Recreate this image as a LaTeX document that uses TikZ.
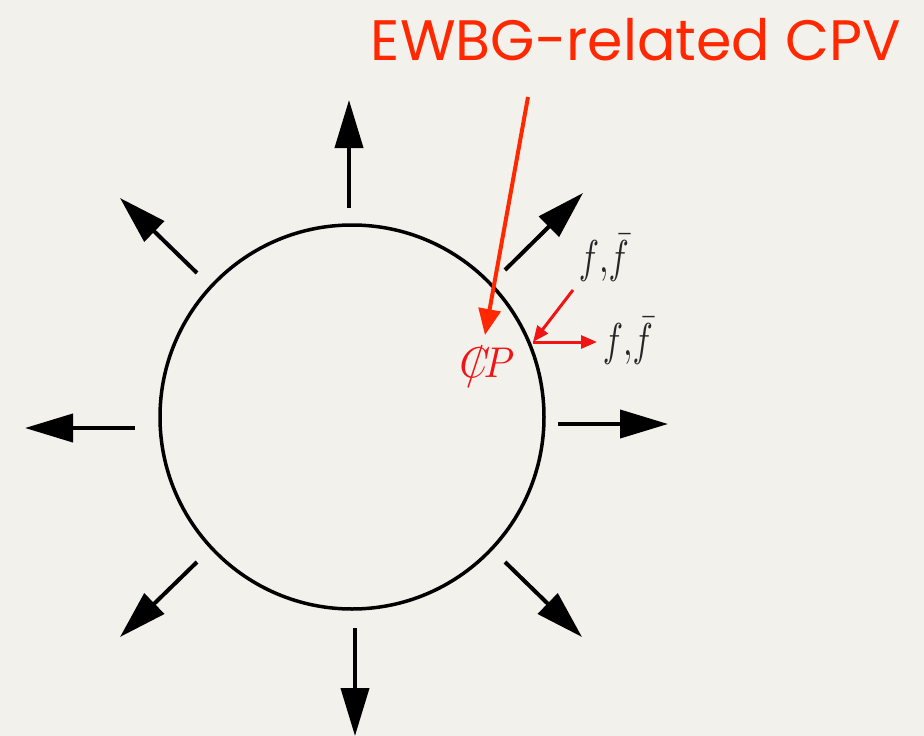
\documentclass[tikz,border=0pt]{standalone}
\usepackage{fontspec}
\usepackage{amsmath}
\usepackage{graphicx}
\usetikzlibrary{arrows.meta,positioning}
\newfontfamily\titlefont{Poppins}
\definecolor{paper}{RGB}{242,241,236}
\definecolor{cpvred}{RGB}{255,40,0}
\definecolor{labred}{RGB}{240,20,20}

\begin{document}
\begin{tikzpicture}[
  x=1pt, y=-1pt,
  bubble/.style={circle, draw, line width=3.5pt, minimum size=384pt, inner sep=0pt},
  radial/.style={-{Triangle[length=48pt,width=28pt]}, line width=4pt},
  pointer/.style={-{Triangle[length=26pt,width=22pt]}, line width=4pt, draw=cpvred, color=cpvred},
  flow/.style={-{Triangle[length=16pt,width=13pt]}, line width=3pt, draw=labred, color=labred},
  ffbar/.style={text=black!85, inner sep=1pt}
]
\useasboundingbox[fill=paper] (0,0) rectangle (924,736);

% Wall
\node[bubble] (wall) at (352,417) {};

% Radial arrows
\coordinate (n0) at (349,208);  \coordinate (n1) at (349,100);
\coordinate (s0) at (355,628);  \coordinate (s1) at (355,736);
\coordinate (w0) at (135,428);  \coordinate (w1) at (25,428);
\coordinate (e0) at (558,424);  \coordinate (e1) at (668,424);
\coordinate (nw0) at (197,273); \coordinate (nw1) at (120,198);
\coordinate (ne0) at (505,270); \coordinate (ne1) at (583,193);
\coordinate (sw0) at (197,562); \coordinate (sw1) at (120,637);
\coordinate (se0) at (505,562); \coordinate (se1) at (582,637);

\draw[radial] (n0) -- (n1);
\draw[radial] (s0) -- (s1);
\draw[radial] (w0) -- (w1);
\draw[radial] (e0) -- (e1);
\draw[radial] (nw0) -- (nw1);
\draw[radial] (ne0) -- (ne1);
\draw[radial] (sw0) -- (sw1);
\draw[radial] (se0) -- (se1);

% Labels
\node[text=cpvred, font=\titlefont\fontsize{57}{62}\selectfont, anchor=center] (title) at (636,40) {EWBG-related CPV};
\node[text=labred, inner sep=1pt] (cpv) at (487,368) {\scalebox{3.9}[4.3]{\ooalign{$C$\cr\hfil$/$\hfil\cr}$\!P$}};
\node[ffbar] (fin) at (604,258) {\scalebox{3.4}[4.6]{$f{,}\bar{f}$}};
\node[ffbar] (fout) at (628,341) {\scalebox{3.4}[4.6]{$f{,}\bar{f}$}};

% Red arrows
\coordinate (ptop) at (528,97);
\coordinate (ptip) at (485,335);
\coordinate (hit) at (533,342);
\coordinate (inc) at (573,290);
\coordinate (out) at (597,342);
\draw[pointer] (ptop) -- (ptip);
\draw[flow] (inc) -- (hit);
\draw[flow] (hit) -- (out);

\end{tikzpicture}
\end{document}
